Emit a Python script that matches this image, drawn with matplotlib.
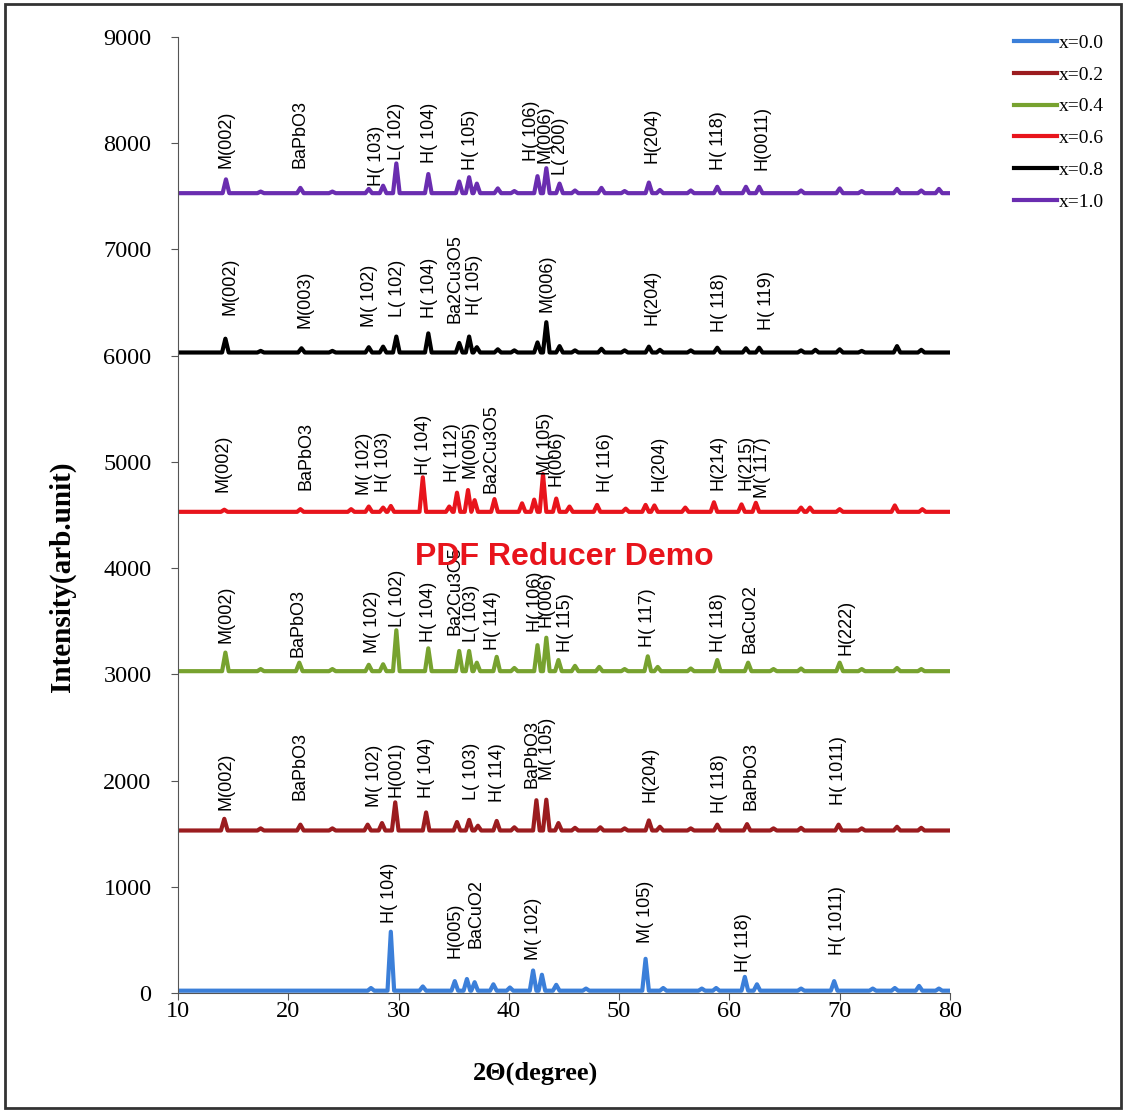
import matplotlib
matplotlib.use("Agg")
import matplotlib.pyplot as plt
from matplotlib.patches import Rectangle

# ---- data ----
compositions = ["x=0.0", "x=0.2", "x=0.4", "x=0.6", "x=0.8", "x=1.0"]
colors = ["#3b7fd9", "#9b1c1f", "#77a22f", "#e8141c", "#000000", "#6a2db0"]
baselines = [22, 1530, 3030, 4530, 6030, 7530]

# peak angle (2theta) and peak height above the baseline, per sample
peaks_00 = [27.5, 29.3, 32.2, 35.1, 36.2, 36.9, 38.6, 40.1, 42.2, 43.0, 44.3, 47.0,
            52.4, 54.0, 57.5, 58.8, 61.4, 62.5, 66.5, 69.5, 73.0, 75.0, 77.2, 79.0]
heights_00 = [25, 555, 40, 90, 110, 80, 60, 30, 190, 150, 55, 20,
              300, 25, 20, 25, 130, 60, 20, 90, 20, 25, 45, 20]

peaks_02 = [14.2, 17.5, 21.1, 24.0, 27.2, 28.5, 29.7, 32.5, 35.3, 36.4, 37.2, 38.9, 40.5,
            42.5, 43.4, 44.5, 46.0, 48.3, 50.5, 52.7, 53.7, 56.5, 58.9, 61.6, 64.0, 66.5,
            69.9, 72.0, 75.2, 77.4]
heights_02 = [110, 20, 55, 20, 55, 70, 265, 170, 80, 100, 45, 90, 30,
              285, 290, 70, 25, 30, 20, 95, 35, 20, 55, 60, 20, 25,
              55, 20, 35, 25]

peaks_04 = [14.3, 17.5, 21.0, 24.0, 27.3, 28.6, 29.8, 32.7, 35.5, 36.4, 37.1, 38.9, 40.5,
            42.6, 43.4, 44.5, 46.0, 48.2, 50.5, 52.6, 53.5, 56.5, 58.9, 61.7, 64.0, 66.5,
            70.0, 72.0, 75.2, 77.4]
heights_04 = [175, 20, 80, 20, 60, 65, 385, 215, 190, 190, 80, 135, 30,
              245, 315, 105, 50, 40, 20, 140, 40, 25, 105, 80, 20, 25,
              80, 20, 30, 20]

peaks_06 = [14.2, 21.1, 25.7, 27.3, 28.6, 29.3, 32.2, 34.6, 35.3, 36.3, 36.9, 38.7, 41.2,
            42.3, 43.1, 44.3, 45.5, 48.0, 50.6, 52.4, 53.2, 56.0, 58.6, 61.1, 62.4, 66.5,
            67.3, 70.0, 75.0, 77.5]
heights_06 = [20, 25, 25, 50, 40, 55, 325, 50, 180, 205, 110, 120, 80,
              115, 355, 125, 50, 65, 30, 65, 60, 40, 90, 70, 85, 40,
              40, 25, 60, 25]

peaks_08 = [14.3, 17.5, 21.2, 24.0, 27.3, 28.6, 29.8, 32.7, 35.5, 36.4, 37.1, 39.0, 40.5,
            42.6, 43.4, 44.6, 46.0, 48.4, 50.5, 52.7, 53.7, 56.5, 58.9, 61.5, 62.7, 66.5,
            67.8, 70.0, 72.0, 75.2, 77.4]
heights_08 = [130, 15, 40, 15, 50, 55, 150, 180, 90, 150, 50, 30, 20,
              95, 285, 60, 20, 35, 20, 55, 25, 20, 45, 40, 45, 20,
              25, 30, 15, 60, 25]

peaks_10 = [14.35, 17.5, 21.1, 24.0, 27.3, 28.6, 29.8, 32.7, 35.5, 36.4, 37.1, 39.0, 40.5,
            42.6, 43.4, 44.6, 46.0, 48.4, 50.5, 52.7, 53.7, 56.5, 58.9, 61.5, 62.7, 66.5,
            70.0, 72.0, 75.2, 77.4, 79.0]
heights_10 = [130, 15, 50, 15, 40, 70, 280, 180, 110, 150, 90, 45, 20,
              160, 235, 90, 25, 50, 20, 100, 30, 25, 60, 60, 60, 25,
              45, 20, 40, 25, 40]

# peak labels: text, 2theta of the label, intensity at the bottom of the label
labels_00 = ["H( 104)", "H(005)", "BaCuO2", "M( 102)", "M( 105)", "H( 118)", "H( 1011)"]
lab_x_00 = [29.2, 35.1, 37.0, 42.2, 52.4, 61.3, 69.8]
lab_y_00 = [660, 330, 420, 310, 470, 200, 358]

labels_02 = ["M(002)", "BaPbO3", "M( 102)", "H(001)", "H( 104)", "L( 103)", "H( 114)",
             "BaPbO3", "M( 105)", "H(204)", "H( 118)", "BaPbO3", "H( 1011)"]
lab_x_02 = [14.4, 21.1, 27.8, 29.8, 32.5, 36.6, 39.0, 42.1, 43.5, 52.8, 59.1, 62.0, 69.9]
lab_y_02 = [1723, 1817, 1754, 1848, 1836, 1817, 1801, 1930, 2005, 1801, 1695, 1723, 1770]

labels_04 = ["M(002)", "BaPbO3", "M( 102)", "L( 102)", "H( 104)", "Ba2Cu3O5", "L( 103)",
             "H( 114)", "H( 106)", "H(006)", "H( 115)", "H( 117)", "H( 118)", "BaCuO2",
             "H(222)"]
lab_x_04 = [14.4, 20.9, 27.6, 29.9, 32.7, 35.1, 36.6, 38.5, 42.4, 43.4, 45.1, 52.6, 59.0,
            61.9, 70.6]
lab_y_04 = [3295, 3167, 3200, 3450, 3308, 3371, 3308, 3230, 3402, 3450, 3214, 3261, 3214,
            3200, 3183]

labels_06 = ["M(002)", "BaPbO3", "M( 102)", "H( 103)", "H( 104)", "H( 112)", "M(005)",
             "Ba2Cu3O5", "M( 105)", "H(006)", "H( 116)", "H(204)", "H(214)", "H(215)",
             "M( 117)"]
lab_x_06 = [14.1, 21.6, 26.9, 28.6, 32.3, 34.9, 36.5, 38.4, 43.3, 44.3, 48.8, 53.6, 59.0,
            61.5, 63.0]
lab_y_06 = [4720, 4736, 4690, 4720, 4878, 4815, 4848, 4705, 4878, 4775, 4720, 4730, 4736,
            4736, 4660]

labels_08 = ["M(002)", "M(003)", "M( 102)", "L( 102)", "H( 104)", "Ba2Cu3O5", "H( 105)",
             "M(006)", "H(204)", "H( 118)", "H( 119)"]
lab_x_08 = [14.7, 21.5, 27.4, 29.9, 32.8, 35.1, 36.9, 43.5, 53.0, 59.1, 63.4]
lab_y_08 = [6384, 6262, 6274, 6368, 6356, 6308, 6384, 6415, 6290, 6227, 6243]

labels_10 = ["M(002)", "BaPbO3", "H( 103)", "L( 102)", "H( 104)", "H( 105)", "H( 106)",
             "M(006)", "L( 200)", "H(204)", "H( 118)", "H(0011)"]
lab_x_10 = [14.4, 21.1, 28.0, 29.8, 32.8, 36.5, 42.1, 43.3, 44.7, 53.0, 59.0, 63.0]
lab_y_10 = [7768, 7768, 7600, 7844, 7815, 7750, 7834, 7815, 7702, 7815, 7750, 7750]

all_peaks = [(peaks_00, heights_00), (peaks_02, heights_02), (peaks_04, heights_04),
             (peaks_06, heights_06), (peaks_08, heights_08), (peaks_10, heights_10)]
all_labels = [(labels_00, lab_x_00, lab_y_00), (labels_02, lab_x_02, lab_y_02),
              (labels_04, lab_x_04, lab_y_04), (labels_06, lab_x_06, lab_y_06),
              (labels_08, lab_x_08, lab_y_08), (labels_10, lab_x_10, lab_y_10)]


def pattern(base, pos, hts, w=0.3):
    """Polyline through the baseline and the top of every peak."""
    xs, ys = [10], [base]
    for p, h in sorted(zip(pos, hts)):
        xs += [p - w, p, p + w]
        ys += [base, base + h, base]
    xs.append(80)
    ys.append(base)
    return xs, ys


fig = plt.figure(figsize=(11.25, 11.15), dpi=100)
ax = fig.add_axes([0.1582, 0.1094, 0.6862, 0.8574])

for name, col, base, (pos, hts) in zip(compositions, colors, baselines, all_peaks):
    xs, ys = pattern(base, pos, hts)
    ax.plot(xs, ys, color=col, lw=3.0, label=name, solid_joinstyle="round")

for texts, lx, ly in all_labels:
    for t, x, y in zip(texts, lx, ly):
        ax.text(x, y, t, rotation=90, ha="center", va="bottom",
                fontsize=13, family="Liberation Sans", color="black")

# watermark of the source document
ax.text(45, 4105, "PDF Reducer Demo", color="#e8141c", fontsize=23,
        fontweight="bold", family="Liberation Sans", ha="center", va="center")

ax.set_xlim(10, 80)
ax.set_ylim(0, 9000)
ax.set_xticks(range(10, 81, 10))
ax.set_yticks(range(0, 9001, 1000))
for s in ["top", "right"]:
    ax.spines[s].set_visible(False)
ax.spines["left"].set_color("#555555")
ax.spines["bottom"].set_color("#555555")
ax.tick_params(direction="out", length=5, color="#555555", labelsize=17.5)
ax.tick_params(axis="y", pad=14)
ax.tick_params(axis="x", pad=1)
for lbl in ax.get_xticklabels() + ax.get_yticklabels():
    lbl.set_family("Liberation Serif")

fig.text(535 / 1125, 1 - 1073 / 1115, "2Θ(degree)", fontsize=19, fontweight="bold",
         family="Liberation Serif", ha="center", va="center")
fig.text(62 / 1125, 1 - 577 / 1115, "Intensity(arb.unit)", fontsize=21, fontweight="bold",
         family="Liberation Serif", ha="center", va="center", rotation=90)

ax.legend(loc="upper left", bbox_to_anchor=(0.886, 0.985), bbox_transform=fig.transFigure,
          frameon=False, prop={"family": "Liberation Serif", "size": 14},
          handlelength=2.2, handletextpad=0.1, labelspacing=0.73)

fig.patches.append(Rectangle((0.004, 0.006), 0.992, 0.99, transform=fig.transFigure,
                             fill=False, edgecolor="#333333", lw=2))

fig.savefig("out.png", dpi=100)
